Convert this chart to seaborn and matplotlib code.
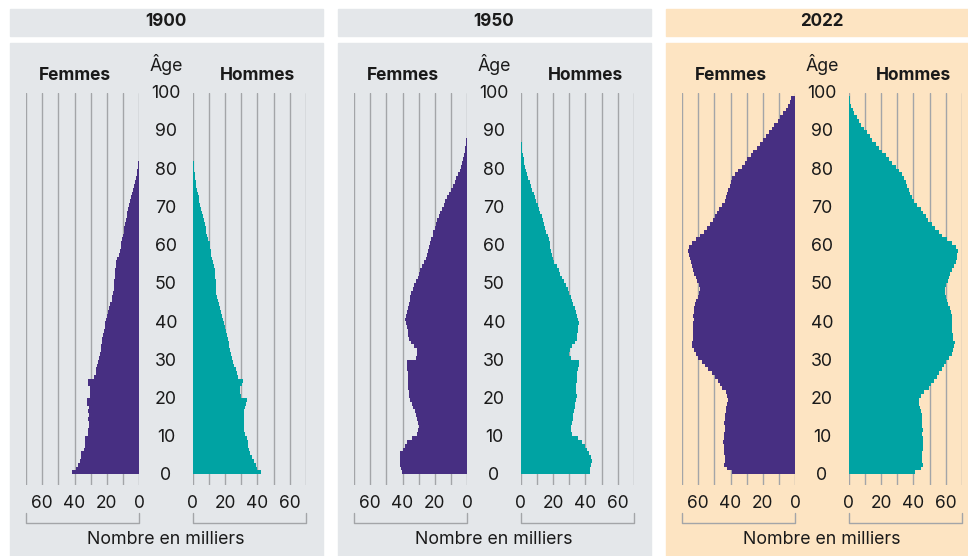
import numpy as np
import pandas as pd
import seaborn as sns
import matplotlib.pyplot as plt
from matplotlib.patches import Rectangle
from matplotlib.lines import Line2D

# Population by single year of age (thousands)
femmes_1900 = [41.6, 38.9, 37.9, 36.9, 36.2, 35.8, 34.2, 33.7, 33.5, 33.5,
               31.7, 31.5, 31.3, 31.3, 31.5, 31.3, 31.5, 31.1, 32.1, 32.3,
               30.6, 30.2, 30.4, 31.5, 31.7, 28.2, 26.9, 26.5, 25.9, 25.3,
               24.8, 24.4, 23.8, 23.4, 23.2, 22.8, 22.4, 21.9, 21.5, 21.1,
               20.7, 20.1, 19.5, 18.8, 18.0, 17.0, 16.6, 16.1, 15.9, 15.7,
               15.5, 15.3, 15.1, 14.9, 14.7, 14.1, 13.5, 12.8, 12.2, 11.6,
               11.0, 10.6, 10.1, 9.7, 9.3, 8.7, 8.3, 7.9, 7.5, 7.0,
               6.4, 5.8, 5.2, 4.6, 3.9, 3.3, 2.7, 2.1, 1.7, 1.2,
               0.8, 0.6, 0.4, 0.25, 0.15, 0.1]
hommes_1900 = [42.4, 40.0, 38.9, 37.9, 36.9, 35.4, 34.8, 34.4, 34.0, 33.7,
               32.1, 31.9, 31.7, 31.7, 31.5, 31.7, 31.5, 32.1, 33.1, 33.3,
               29.6, 29.0, 29.2, 30.6, 31.1, 28.0, 27.1, 26.5, 25.7, 25.0,
               24.4, 23.8, 23.2, 22.6, 22.2, 21.7, 21.1, 20.5, 19.9, 19.3,
               18.6, 18.0, 17.4, 16.8, 16.1, 15.5, 15.1, 14.7, 14.5, 14.3,
               14.1, 13.9, 13.7, 13.5, 13.3, 12.8, 12.2, 11.6, 11.2, 10.8,
               10.4, 9.7, 9.1, 8.5, 8.1, 7.5, 6.8, 6.4, 5.8, 5.4,
               4.8, 4.1, 3.7, 3.1, 2.7, 2.3, 1.9, 1.4, 1.2, 1.0,
               0.8, 0.6, 0.4, 0.3, 0.2, 0.1]

femmes_1950 = [40.4, 41.0, 41.4, 41.6, 41.8, 41.4, 40.0, 38.5, 37.3, 34.2,
               31.1, 30.2, 30.0, 30.2, 31.1, 31.7, 32.5, 33.3, 34.4, 35.2,
               36.0, 36.2, 36.4, 36.6, 36.9, 36.9, 36.9, 37.1, 37.1, 37.5,
               31.7, 31.1, 31.3, 32.7, 34.8, 36.2, 36.4, 36.9, 37.3, 37.7,
               38.3, 37.7, 37.1, 36.4, 36.0, 35.6, 35.2, 34.8, 33.3, 32.7,
               31.5, 30.6, 29.8, 29.0, 27.7, 26.5, 25.7, 24.8, 24.2, 23.6,
               23.0, 22.4, 21.5, 20.9, 20.1, 19.3, 18.6, 17.6, 16.6, 15.5,
               14.5, 13.7, 12.6, 11.4, 9.9, 8.7, 7.9, 6.8, 5.8, 4.8,
               3.9, 3.3, 2.7, 2.1, 1.7, 1.2, 0.8, 0.6, 0.4, 0.2, 0.1]
hommes_1950 = [42.6, 43.1, 43.5, 43.9, 43.7, 42.4, 41.0, 39.5, 37.9, 35.2,
               31.7, 31.3, 31.1, 31.7, 32.1, 32.5, 32.9, 33.3, 33.7, 34.2,
               34.6, 34.4, 34.2, 34.4, 34.6, 34.8, 35.0, 35.2, 35.8, 35.8,
               31.3, 30.0, 30.2, 31.7, 33.7, 34.8, 35.0, 35.4, 35.6, 35.8,
               35.4, 34.8, 34.2, 33.3, 32.5, 31.7, 30.8, 30.0, 29.0, 28.0,
               26.7, 25.5, 24.4, 23.4, 22.2, 20.7, 20.1, 19.5, 18.8, 18.4,
               17.8, 17.2, 16.6, 15.9, 15.3, 14.7, 13.9, 13.0, 12.2, 11.4,
               10.6, 9.7, 8.9, 8.1, 7.2, 6.4, 5.6, 4.8, 3.9, 3.3,
               2.7, 2.3, 1.9, 1.4, 1.0, 0.8, 0.6, 0.4, 0.3, 0.2, 0.1]

femmes_2022 = [39.3, 42.0, 44.0, 43.4, 43.6, 44.0, 44.2, 44.2, 44.4, 44.0,
               43.8, 43.6, 43.6, 43.8, 43.6, 43.6, 43.0, 42.6, 42.0, 41.8,
               42.0, 43.0, 45.0, 46.5, 47.9, 49.8, 51.6, 53.7, 55.8, 57.8,
               59.9, 61.5, 62.8, 63.6, 64.0, 63.2, 63.2, 63.2, 63.0, 63.2,
               62.8, 63.2, 62.8, 62.3, 61.9, 61.1, 60.3, 59.5, 59.1, 59.5,
               60.7, 61.5, 62.3, 63.2, 64.0, 64.6, 65.2, 65.6, 66.0, 65.8,
               63.6, 61.1, 58.6, 56.6, 54.5, 52.5, 50.8, 49.6, 48.1, 47.1,
               45.0, 43.6, 42.6, 42.0, 41.4, 40.5, 39.7, 39.3, 37.4, 35.2,
               32.7, 31.1, 29.6, 27.6, 26.1, 23.7, 22.0, 20.0, 18.3, 16.3,
               14.6, 13.2, 10.9, 9.3, 7.6, 6.0, 4.7, 3.5, 2.5]
hommes_2022 = [40.9, 44.4, 45.9, 45.5, 45.1, 45.5, 45.9, 46.1, 45.9, 45.9,
               45.5, 45.7, 45.5, 45.3, 45.5, 45.1, 44.4, 43.8, 43.4, 43.6,
               44.4, 46.5, 49.6, 50.6, 52.7, 54.7, 55.8, 57.4, 58.8, 60.3,
               61.9, 63.6, 64.6, 65.0, 65.4, 64.6, 64.4, 64.0, 64.0, 64.0,
               63.6, 63.6, 63.2, 62.3, 61.5, 60.7, 59.9, 59.5, 59.5, 60.3,
               61.1, 61.9, 62.8, 64.0, 65.0, 66.0, 66.7, 67.1, 67.5, 66.5,
               63.6, 60.9, 57.8, 55.8, 53.3, 51.2, 49.2, 47.5, 45.9, 44.4,
               42.4, 40.3, 38.9, 38.1, 37.2, 36.2, 35.2, 34.2, 32.7, 31.1,
               29.0, 27.0, 24.9, 22.8, 20.8, 18.7, 16.7, 14.6, 13.0, 11.1,
               9.5, 7.8, 6.4, 4.9, 3.5, 2.5, 1.6, 1.0, 0.6]

years = ['1900', '1950', '2022']
femmes = [femmes_1900, femmes_1950, femmes_2022]
hommes = [hommes_1900, hommes_1950, hommes_2022]
age_ticks = list(range(0, 101, 10))
x_grid = list(range(0, 80, 10))
x_labels = ['0', '', '20', '', '40', '', '60', '']

PURPLE = '#472f82'
TEAL = '#00a3a3'
GREY_BG = '#e4e7ea'
BEIGE = '#fde4c2'
GRID = '#a3a5a8'
TEXT = '#1a1a1a'

W, H = 968, 556
sns.set_style('white')
plt.rcParams['font.family'] = ['Inter', 'DejaVu Sans']

fig = plt.figure(figsize=(W / 100, H / 100), dpi=100)


def fx(x):
    return x / W


def fy(y):
    return 1 - y / H


def half_pyramid(ax, values, color):
    df = pd.DataFrame({'age': np.arange(len(values)) + 0.5, 'n': values})
    sns.barplot(data=df, x='n', y='age', orient='y', native_scale=True,
                width=1, color=color, saturation=1, errorbar=None,
                linewidth=0, antialiased=False, ax=ax)
    ax.set_ylim(-2.8, 99.8)
    ax.set_xticks(x_grid)
    ax.set_xticklabels(x_labels)
    ax.set_yticks([])
    ax.set_xlabel('')
    ax.set_ylabel('')
    ax.grid(axis='x', color=GRID, lw=1)
    ax.set_axisbelow(True)
    ax.patch.set_alpha(0)
    for s in ax.spines.values():
        s.set_visible(False)
    ax.tick_params(axis='x', length=0, pad=7.5, labelsize=12.5, labelcolor=TEXT)


for i, year in enumerate(years):
    dx = 328 * i
    bg = BEIGE if year == '2022' else GREY_BG
    fig.add_artist(Rectangle((fx(10 + dx), fy(35.7)), 313 / W, 26.7 / H,
                             transform=fig.transFigure, color=bg, zorder=0))
    fig.add_artist(Rectangle((fx(10 + dx), 0), 313 / W, (556 - 42.7) / H,
                             transform=fig.transFigure, color=bg, zorder=0))

    ax_f = fig.add_axes([fx(26 + dx), fy(485), 113.3 / W, (485 - 93) / H])
    half_pyramid(ax_f, femmes[i], PURPLE)
    ax_f.set_xlim(70, 0)

    ax_h = fig.add_axes([fx(192.7 + dx), fy(485), 113.3 / W, (485 - 93) / H])
    half_pyramid(ax_h, hommes[i], TEAL)
    ax_h.set_xlim(0, 70)

    ax_m = fig.add_axes([fx(139.3 + dx), fy(485), 53.4 / W, (485 - 93) / H])
    ax_m.set_xlim(0, 1)
    ax_m.set_ylim(-2.8, 99.8)
    ax_m.axis('off')
    for a in age_ticks:
        ax_m.text(0.5, a - 0.4, str(a), ha='center', va='center',
                  fontsize=12.8, color=TEXT)

    fig.text(fx(166 + dx), fy(22), year, ha='center', va='center',
             fontsize=12.3, fontweight='bold', color=TEXT)
    fig.text(fx(74.5 + dx), fy(75.5), 'Femmes', ha='center', va='center',
             fontsize=12.5, fontweight='bold', color=TEXT)
    fig.text(fx(257.5 + dx), fy(75.5), 'Hommes', ha='center', va='center',
             fontsize=12.5, fontweight='bold', color=TEXT)
    fig.text(fx(166 + dx), fy(65), 'Âge', ha='center', va='center',
             fontsize=12.8, color=TEXT)
    fig.text(fx(166 + dx), fy(540), 'Nombre en milliers', ha='center',
             va='center', fontsize=12.8, color=TEXT)

    for x0, x1 in [(26, 139.3), (192.7, 306)]:
        xs = [fx(x0 + dx), fx(x0 + dx), fx(x1 + dx), fx(x1 + dx)]
        ys = [fy(512.7), fy(523), fy(523), fy(512.7)]
        fig.add_artist(Line2D(xs, ys, transform=fig.transFigure,
                              color=GRID, lw=1))

fig.savefig('out.png', dpi=100)
